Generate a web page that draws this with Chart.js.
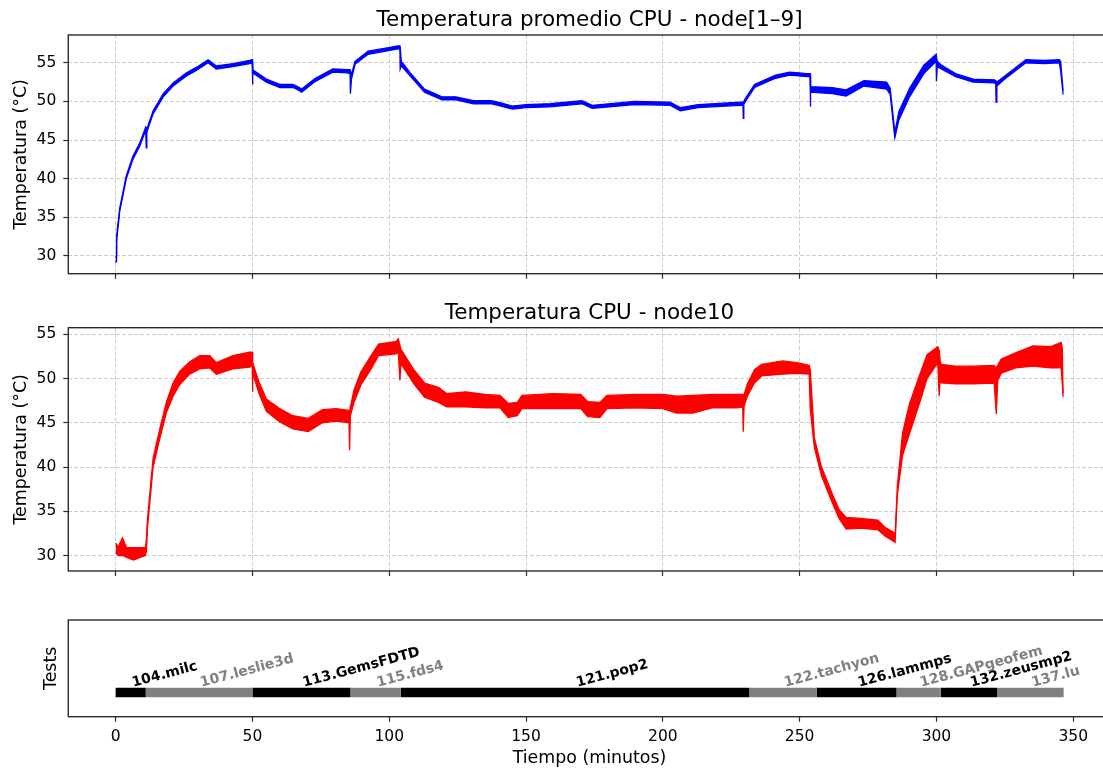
<!DOCTYPE html>
<html>
<head>
<meta charset="utf-8">
<script src="https://cdn.jsdelivr.net/npm/chart.js@4.4.1/dist/chart.umd.min.js"></script>
<style>
  html, body { margin: 0; padding: 0; background: #fff; overflow: hidden; width: 1103px; height: 769px; }
  canvas { position: absolute; left: 0; }
</style>
</head>
<body>
<canvas id="panelPromedio" width="1115" height="290" style="top:0px"></canvas>
<canvas id="panelNode10" width="1115" height="300" style="top:290px"></canvas>
<canvas id="panelTests" width="1115" height="179" style="top:590px"></canvas>
<script>
// ---- Datos ----
// Temperatura promedio node[1–9]: tiempo (min), envolvente superior e inferior (°C)
const tiempoProm = [0.0, 0.2, 0.35, 1.5, 3.9, 6.3, 8.8, 10.6, 11.0, 11.2, 11.4, 13.7, 17.4, 21.0, 25.9, 29.5, 33.8, 36.8, 42.9, 49.0, 49.9, 50.0, 50.2, 55.1, 60.0, 64.8, 66.7, 68.0, 73.0, 79.4, 84.6, 85.7, 85.8, 86.2, 87.5, 92.3, 98.7, 103.2, 103.9, 104.0, 104.4, 107.7, 112.9, 119.3, 124.4, 130.8, 137.3, 139.8, 145.0, 150.0, 158.8, 170.4, 174.2, 189.7, 202.6, 206.4, 212.9, 228.4, 229.3, 229.4, 229.6, 230.2, 233.5, 241.2, 246.4, 252.8, 253.8, 253.9, 254.1, 261.9, 267.0, 273.5, 281.8, 283.1, 284.8, 286.3, 290.2, 295.4, 299.9, 300.0, 300.3, 301.8, 307.0, 313.4, 321.1, 321.7, 321.8, 322.1, 325.0, 332.7, 339.2, 344.9, 345.4, 346.3];
const promAlta = [29.8, 30.0, 32.5, 36.2, 40.4, 42.9, 44.6, 46.3, 46.7, 46.6, 46.4, 48.8, 51.0, 52.4, 53.7, 54.4, 55.4, 54.6, 54.9, 55.3, 55.4, 55.4, 54.1, 52.9, 52.2, 52.2, 51.9, 51.6, 53.0, 54.2, 54.1, 54.1, 53.9, 53.5, 55.2, 56.5, 56.9, 57.2, 57.2, 57.1, 55.2, 53.7, 51.6, 50.6, 50.6, 50.1, 50.1, 49.9, 49.4, 49.6, 49.7, 50.1, 49.5, 50.0, 49.9, 49.2, 49.6, 49.9, 49.9, 49.9, 50.0, 50.4, 52.2, 53.4, 53.8, 53.6, 53.6, 53.4, 51.9, 51.8, 51.5, 52.7, 52.5, 51.7, 46.0, 48.7, 51.7, 54.7, 56.1, 56.1, 55.2, 54.7, 53.6, 52.9, 52.8, 52.7, 52.6, 52.5, 53.3, 55.4, 55.3, 55.4, 55.2, 51.4];
const promBaja = [29.1, 29.3, 31.9, 35.8, 40.0, 42.5, 44.2, 45.9, 45.9, 44.0, 46.0, 48.4, 50.6, 52.0, 53.3, 54.0, 55.0, 54.2, 54.5, 54.9, 55.0, 52.2, 53.7, 52.5, 51.8, 51.8, 51.5, 51.2, 52.6, 53.8, 53.7, 53.6, 51.0, 52.9, 54.8, 56.1, 56.5, 56.8, 56.8, 54.2, 54.6, 53.3, 51.2, 50.2, 50.2, 49.7, 49.7, 49.5, 49.0, 49.2, 49.3, 49.7, 49.1, 49.6, 49.5, 48.8, 49.2, 49.5, 49.5, 47.8, 49.6, 50.0, 51.8, 53.0, 53.4, 53.2, 53.2, 49.3, 51.2, 51.0, 50.7, 52.0, 51.6, 50.9, 45.3, 47.6, 50.6, 53.6, 55.2, 52.6, 54.5, 54.2, 53.2, 52.5, 52.4, 52.3, 49.9, 52.0, 52.9, 55.0, 54.9, 55.0, 54.0, 50.9];

// Temperatura node10: tiempo (min), envolvente superior e inferior (°C)
const tiempoN10 = [0.0, 1.0, 2.5, 4.0, 6.5, 9.0, 10.9, 11.3, 11.6, 13.7, 16.2, 18.6, 21.0, 23.4, 27.1, 30.7, 34.4, 36.8, 42.9, 49.0, 49.9, 50.0, 50.2, 52.4, 55.1, 60.0, 64.8, 70.4, 75.6, 80.7, 85.3, 85.5, 85.8, 87.1, 89.7, 93.6, 96.1, 102.6, 103.3, 103.9, 104.3, 109.0, 112.9, 118.0, 121.0, 128.0, 135.0, 140.5, 143.5, 146.8, 148.5, 160.0, 170.0, 172.5, 177.0, 179.6, 190.0, 200.0, 205.0, 211.0, 218.0, 227.0, 229.2, 229.4, 229.7, 230.9, 233.5, 236.1, 243.8, 249.0, 253.5, 253.9, 255.4, 258.0, 261.9, 264.4, 267.0, 272.2, 278.6, 281.2, 284.4, 284.9, 285.7, 287.6, 290.2, 294.1, 296.6, 300.5, 301.0, 301.4, 301.8, 307.0, 313.4, 321.1, 321.9, 322.4, 323.7, 328.9, 335.3, 341.8, 345.6, 346.0, 346.3];
const n10Alta = [31.4, 31.0, 32.0, 30.9, 30.9, 30.9, 30.9, 32.0, 34.0, 41.0, 44.4, 47.4, 49.5, 50.8, 51.9, 52.6, 52.6, 51.8, 52.6, 53.0, 53.0, 53.0, 51.8, 49.6, 47.7, 46.6, 45.8, 45.5, 46.5, 46.6, 46.4, 46.2, 46.8, 48.7, 50.8, 52.7, 53.9, 54.2, 54.5, 53.8, 53.3, 51.0, 49.5, 49.0, 48.3, 48.5, 48.2, 48.1, 47.2, 47.3, 48.1, 48.3, 48.2, 47.4, 47.3, 48.1, 48.2, 48.2, 48.0, 48.1, 48.2, 48.2, 48.2, 48.0, 48.2, 49.4, 51.0, 51.6, 52.0, 51.8, 51.5, 51.0, 43.3, 40.0, 37.0, 35.2, 34.3, 34.2, 34.0, 33.2, 32.6, 32.3, 37.8, 43.8, 47.2, 50.6, 52.7, 53.6, 53.2, 52.0, 51.6, 51.4, 51.4, 51.5, 51.2, 51.5, 52.2, 52.9, 53.7, 53.6, 54.1, 53.5, 48.3];
const n10Baja = [30.3, 30.0, 30.0, 29.8, 29.5, 29.8, 30.0, 30.6, 33.0, 40.0, 43.3, 46.2, 48.0, 49.3, 50.5, 51.1, 51.2, 50.5, 51.1, 51.3, 51.5, 48.5, 50.6, 48.3, 46.3, 45.1, 44.3, 44.0, 45.0, 45.2, 45.0, 41.9, 45.8, 47.3, 49.3, 51.2, 52.6, 52.8, 53.0, 49.8, 51.7, 49.4, 47.9, 47.3, 46.8, 46.8, 46.7, 46.7, 45.6, 45.8, 46.6, 46.6, 46.6, 45.7, 45.6, 46.6, 46.7, 46.6, 46.1, 46.1, 46.7, 46.7, 46.8, 44.0, 46.9, 48.0, 49.5, 50.3, 50.5, 50.6, 50.5, 46.5, 42.2, 39.0, 36.0, 34.2, 33.0, 33.1, 32.9, 32.2, 31.6, 31.5, 36.8, 41.3, 43.8, 47.5, 50.0, 51.8, 48.0, 50.2, 49.5, 49.4, 49.4, 49.5, 46.0, 49.8, 50.6, 51.2, 51.4, 51.2, 51.2, 49.5, 47.9];

// Pruebas ejecutadas: nombre, inicio y fin (min)
const pruebas = ['104.milc', '107.leslie3d', '113.GemsFDTD', '115.fds4', '121.pop2', '122.tachyon', '126.lammps', '128.GAPgeofem', '132.zeusmp2', '137.lu'];
const inicios = [0.0, 11.0, 50.0, 85.8, 104.2, 231.6, 256.3, 285.4, 301.6, 322.2];
const fines = [11.0, 50.0, 85.8, 104.2, 231.6, 256.3, 285.4, 301.6, 322.2, 346.5];

// Marcas de los ejes
const marcasX = [0, 50, 100, 150, 200, 250, 300, 350];
const marcasTemp = [30, 35, 40, 45, 50, 55];

// ---- Estilos ----
const FUENTE = '"DejaVu Sans", "Liberation Sans", sans-serif';
const AZUL = '#0000ff';
const ROJO = '#ff0000';
const GRIS = '#808080';
const GRID = '#c8c8c8';
const MARCO = '#2b2b2b';
const X_MIN = -17.3, X_MAX = 363.7;
const AREA_IZQ = 68.3;
const AREA_DER_PAD = 4.3;

Chart.defaults.font.family = FUENTE;
Chart.defaults.color = '#000';

function puntos(t, v) { return t.map((x, i) => ({ x, y: v[i] })); }

// Marco completo y textos propios de cada panel
function decoracion(opts) {
  return {
    id: 'decoracion',
    afterDraw(chart) {
      const { ctx, chartArea: a } = chart;
      ctx.save();
      ctx.strokeStyle = MARCO;
      ctx.lineWidth = 1.4;
      ctx.strokeRect(a.left, a.top, a.right - a.left, a.bottom - a.top);
      ctx.fillStyle = '#000';
      if (opts.titulo) {
        ctx.font = '21.5px ' + FUENTE;
        ctx.textAlign = 'center';
        ctx.textBaseline = 'alphabetic';
        ctx.fillText(opts.titulo, (a.left + a.right) / 2, opts.tituloY);
      }
      if (opts.etiquetaY) {
        ctx.save();
        ctx.font = '17.4px ' + FUENTE;
        ctx.translate(opts.etiquetaYX, (a.top + a.bottom) / 2);
        ctx.rotate(-Math.PI / 2);
        ctx.textAlign = 'center';
        ctx.textBaseline = 'middle';
        ctx.fillText(opts.etiquetaY, 0, 0);
        ctx.restore();
      }
      if (opts.etiquetaX) {
        ctx.font = '17.4px ' + FUENTE;
        ctx.textAlign = 'center';
        ctx.textBaseline = 'middle';
        ctx.fillText(opts.etiquetaX, (a.left + a.right) / 2, opts.etiquetaXY);
      }
      ctx.restore();
    }
  };
}

const rejilla = {
  color: GRID,
  lineWidth: 0.9,
  drawTicks: true,
  tickLength: 5,
  tickColor: MARCO,
  tickWidth: 1.2,
  tickBorderDash: []
};

function escalaX(altura, conEtiquetas, conGrid) {
  return {
    type: 'linear',
    min: X_MIN,
    max: X_MAX,
    afterBuildTicks: s => { s.ticks = marcasX.map(v => ({ value: v })); },
    afterFit: s => { s.height = altura; },
    border: { display: false, dash: [4, 2] },
    grid: Object.assign({ display: true, drawOnChartArea: conGrid }, rejilla),
    ticks: {
      display: conEtiquetas,
      font: { size: 15.5, family: FUENTE },
      color: '#000',
      padding: 6,
      maxRotation: 0,
      autoSkip: false
    }
  };
}

function escalaTemp(min, max) {
  return {
    type: 'linear',
    min, max,
    afterBuildTicks: s => { s.ticks = marcasTemp.map(v => ({ value: v })); },
    afterFit: s => { s.width = AREA_IZQ; },
    border: { display: false, dash: [4, 2] },
    grid: Object.assign({}, rejilla),
    ticks: {
      font: { size: 15.5, family: FUENTE },
      color: '#000',
      padding: 7
    }
  };
}

function banda(t, alta, baja, color) {
  return [
    { data: puntos(t, alta), borderColor: color, borderWidth: 1.3, fill: false, pointRadius: 0, tension: 0 },
    { data: puntos(t, baja), borderColor: color, borderWidth: 1.3, fill: '-1', backgroundColor: color, pointRadius: 0, tension: 0 }
  ];
}

const comunes = {
  responsive: false,
  devicePixelRatio: 1,
  animation: false,
  events: [],
  plugins: { legend: { display: false }, tooltip: { enabled: false }, title: { display: false } }
};

// Panel superior: promedio node[1–9]
new Chart(document.getElementById('panelPromedio'), {
  type: 'line',
  data: { datasets: banda(tiempoProm, promAlta, promBaja, AZUL) },
  options: Object.assign({}, comunes, {
    layout: { padding: { top: 35, left: 0, right: AREA_DER_PAD, bottom: 0 } },
    scales: {
      x: escalaX(290 - 278.3, false, true),
      y: escalaTemp(27.7, 58.6)
    }
  }),
  plugins: [decoracion({ titulo: 'Temperatura promedio CPU - node[1–9]', tituloY: 26, etiquetaY: 'Temperatura (°C)', etiquetaYX: 21 })]
});

// Panel central: node10
new Chart(document.getElementById('panelNode10'), {
  type: 'line',
  data: { datasets: banda(tiempoN10, n10Alta, n10Baja, ROJO) },
  options: Object.assign({}, comunes, {
    layout: { padding: { top: 37.7, left: 0, right: AREA_DER_PAD, bottom: 0 } },
    scales: {
      x: escalaX(300 - 281, false, true),
      y: escalaTemp(28.25, 55.75)
    }
  }),
  plugins: [decoracion({ titulo: 'Temperatura CPU - node10', tituloY: 29, etiquetaY: 'Temperatura (°C)', etiquetaYX: 21 })]
});

// Panel inferior: línea de tiempo de las pruebas
const etiquetasPruebas = {
  id: 'etiquetasPruebas',
  afterDatasetsDraw(chart) {
    const { ctx, scales: { x, y } } = chart;
    const yb = y.getPixelForValue(0);
    ctx.save();
    ctx.font = 'bold 14px ' + FUENTE;
    ctx.textAlign = 'left';
    ctx.textBaseline = 'alphabetic';
    pruebas.forEach((nombre, i) => {
      const medio = (inicios[i] + fines[i]) / 2;
      ctx.save();
      ctx.translate(x.getPixelForValue(medio) + 2.5, yb - 5.7);
      ctx.rotate(-15 * Math.PI / 180);
      ctx.fillStyle = i % 2 ? GRIS : '#000';
      ctx.fillText(nombre, 0, 0);
      ctx.restore();
    });
    ctx.restore();
  }
};

new Chart(document.getElementById('panelTests'), {
  type: 'line',
  data: {
    datasets: pruebas.map((p, i) => ({
      label: p,
      data: [{ x: inicios[i], y: 0 }, { x: fines[i], y: 0 }],
      borderColor: i % 2 ? GRIS : '#000',
      borderWidth: 9.4,
      borderCapStyle: 'butt',
      pointRadius: 0,
      fill: false
    }))
  },
  options: Object.assign({}, comunes, {
    layout: { padding: { top: 30, left: 0, right: AREA_DER_PAD, bottom: 0 } },
    scales: {
      x: escalaX(179 - 126.7, true, false),
      y: {
        type: 'linear', min: -1, max: 3,
        afterFit: s => { s.width = AREA_IZQ; },
        border: { display: false },
        grid: { display: false },
        ticks: { display: false }
      }
    }
  }),
  plugins: [etiquetasPruebas, decoracion({ etiquetaY: 'Tests', etiquetaYX: 51.4, etiquetaX: 'Tiempo (minutos)', etiquetaXY: 168 })]
});
</script>
</body>
</html>
